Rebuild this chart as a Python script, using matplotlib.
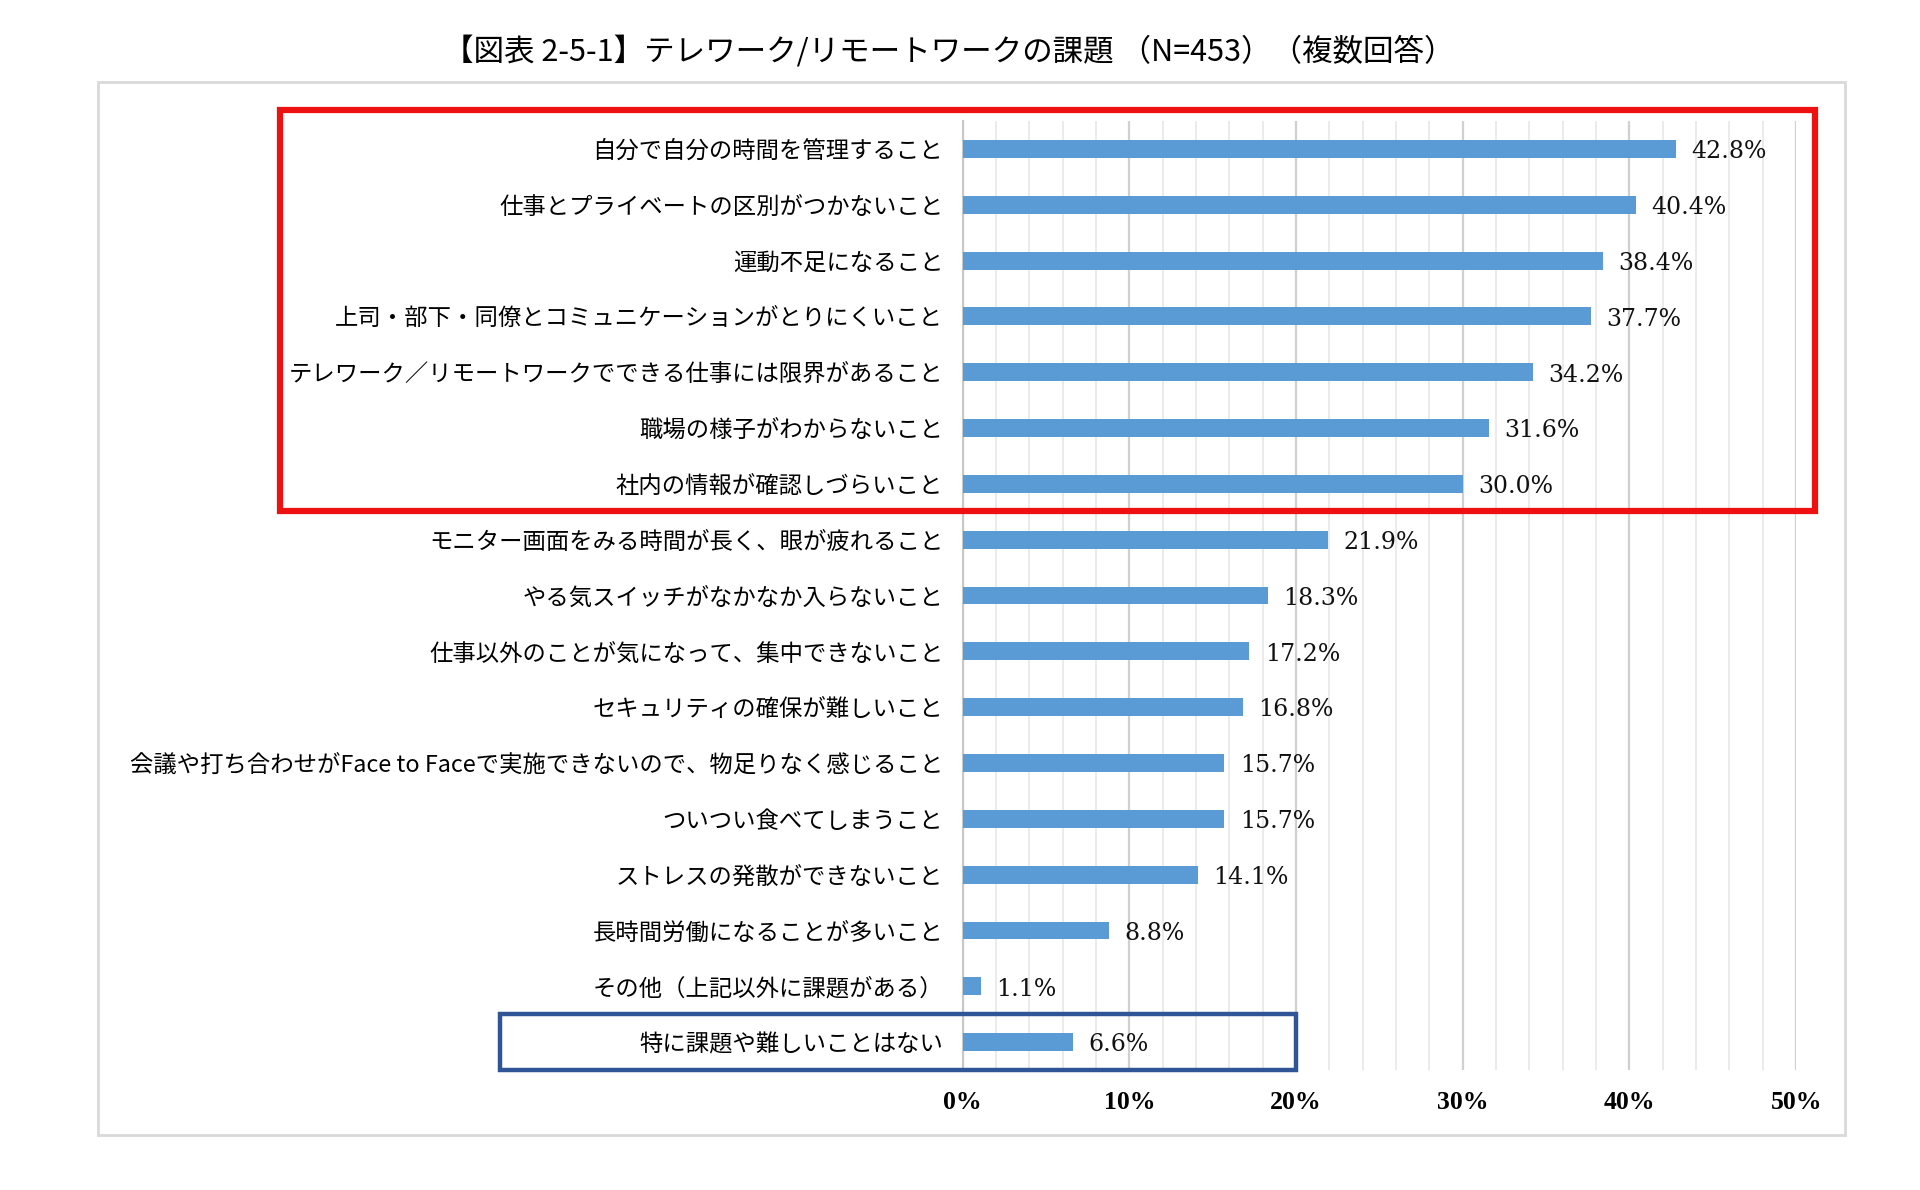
import matplotlib.pyplot as plt
import matplotlib.patches as patches
import matplotlib.transforms as mtransforms
from matplotlib.ticker import MultipleLocator

plt.rcParams['font.family'] = ['Noto Sans CJK JP', 'DejaVu Sans']

# データ（上から順）
labels = [
    "自分で自分の時間を管理すること",
    "仕事とプライベートの区別がつかないこと",
    "運動不足になること",
    "上司・部下・同僚とコミュニケーションがとりにくいこと",
    "テレワーク／リモートワークでできる仕事には限界があること",
    "職場の様子がわからないこと",
    "社内の情報が確認しづらいこと",
    "モニター画面をみる時間が長く、眼が疲れること",
    "やる気スイッチがなかなか入らないこと",
    "仕事以外のことが気になって、集中できないこと",
    "セキュリティの確保が難しいこと",
    "会議や打ち合わせがFace to Faceで実施できないので、物足りなく感じること",
    "ついつい食べてしまうこと",
    "ストレスの発散ができないこと",
    "長時間労働になることが多いこと",
    "その他（上記以外に課題がある）",
    "特に課題や難しいことはない",
]
values = [42.8, 40.4, 38.4, 37.7, 34.2, 31.6, 30.0, 21.9, 18.3, 17.2,
          16.8, 15.7, 15.7, 14.1, 8.8, 1.1, 6.6]
xticks = [0, 10, 20, 30, 40, 50]
xtick_labels = ["0%", "10%", "20%", "30%", "40%", "50%"]
title = "【図表 2-5-1】テレワーク/リモートワークの課題 （N=453）（複数回答）"

fig = plt.figure(figsize=(19.2, 11.9), dpi=100)
ax = fig.add_axes([0.5014, 0.1008, 0.4341, 0.7975])

y = list(range(len(labels)))
ax.barh(y, values, height=0.32, color="#5B9BD5", zorder=3)

# 数値ラベル
for yi, v in zip(y, values):
    ax.annotate(f"{v:.1f}%", xy=(v, yi), xytext=(11, -2),
                textcoords="offset points", va="center", ha="left",
                fontsize=17, family=["DejaVu Serif"], color="#111111")

ax.set_xlim(0, 50)
ax.set_ylim(len(labels) - 0.5, -0.5)
ax.set_yticks(y)
ax.set_yticklabels(labels, fontsize=16.8)
ax.set_xticks(xticks)
ax.set_xticklabels(xtick_labels, fontsize=18.5, family=["Liberation Serif"],
                   fontweight="bold")
ax.xaxis.set_minor_locator(MultipleLocator(2))
ax.tick_params(axis="y", length=0, pad=14)
ax.tick_params(axis="x", which="both", length=0, pad=15)

# グリッド線
ax.grid(axis="x", which="minor", color="#e8e8e8", linewidth=1.2, zorder=0)
ax.grid(axis="x", which="major", color="#d0d0d0", linewidth=1.6, zorder=0)
ax.set_axisbelow(True)
for s in ["top", "right", "bottom"]:
    ax.spines[s].set_visible(False)
ax.spines["left"].set_color("#c8c8c8")
ax.spines["left"].set_linewidth(1.5)

# 強調枠（x は図座標、y はデータ座標）
trans = mtransforms.blended_transform_factory(fig.transFigure, ax.transData)
red = patches.Rectangle((0.1458, -0.70), 0.9453 - 0.1458, 7.19,
                        transform=trans, fill=False, edgecolor="#EE1111",
                        linewidth=4.5, clip_on=False, zorder=5)
fig.add_artist(red)
blue_right = ax.transData.transform((20, 0))[0] / fig.bbox.width
blue = patches.Rectangle((0.2604, 15.5), blue_right - 0.2604, 1.0,
                         transform=trans, fill=False, edgecolor="#2F5597",
                         linewidth=3.2, clip_on=False, zorder=5)
fig.add_artist(blue)

# 外枠
outer = patches.Rectangle((0.051, 0.046), 0.961 - 0.051, 0.931 - 0.046,
                          transform=fig.transFigure, fill=False,
                          edgecolor="#d9d9d9", linewidth=2)
fig.add_artist(outer)

fig.text(0.494, 0.957, title, ha="center", va="center", fontsize=22)

fig.savefig("out.png", dpi=100)
